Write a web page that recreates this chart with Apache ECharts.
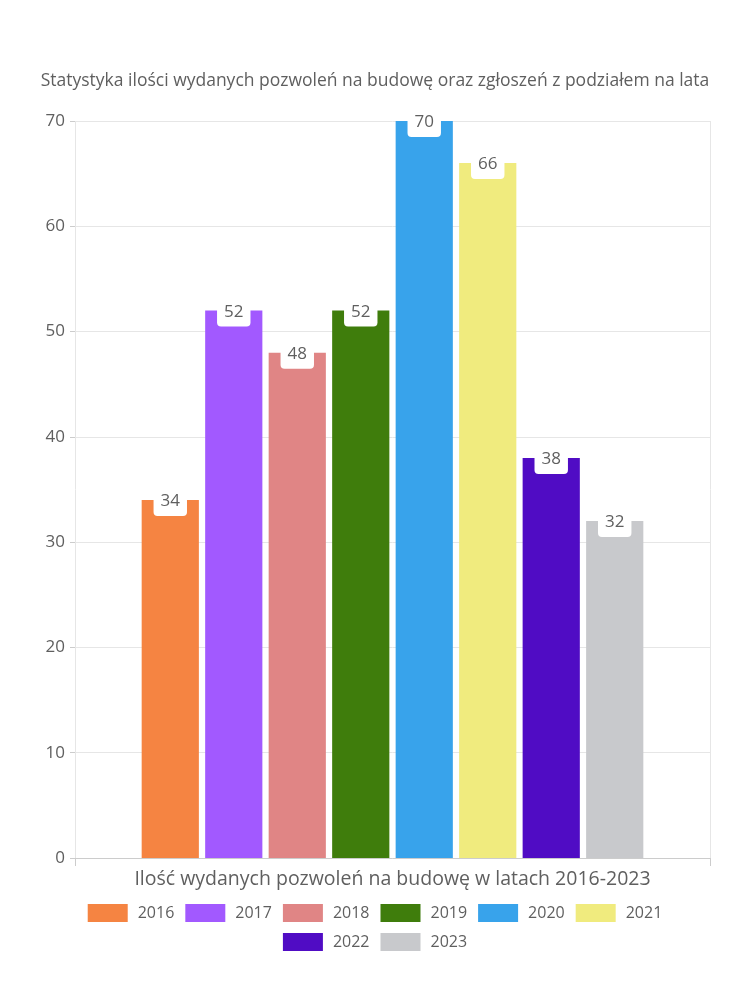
<!DOCTYPE html>
<html><head><meta charset="utf-8">
<script src="https://cdn.jsdelivr.net/npm/echarts@6/dist/echarts.min.js"></script>
<style>html,body{margin:0;padding:0;background:#fff}#c{width:750px;height:1000px}</style>
</head><body><div id="c"></div>
<script>
const title = 'Statystyka ilości wydanych pozwoleń na budowę oraz zgłoszeń z podziałem na lata';
const categories = ['Ilość wydanych pozwoleń na budowę w latach 2016-2023'];
const years = ['2016','2017','2018','2019','2020','2021','2022','2023'];
const values = [34, 52, 48, 52, 70, 66, 38, 32];
const colors = ['#F58442','#A259FF','#E08585','#3F7D0C','#38A3EB','#F0EB7E','#500CC4','#C8C9CC'];
const yTicks = {min: 0, max: 70, interval: 10};

const FONT = '"Open Sans", "Noto Sans", sans-serif';
const TXT = '#5f5f5f';
const legendBase = {itemWidth: 40, itemHeight: 18, itemGap: 11, icon: 'rect', left: 'center',
  textStyle: {fontSize: 16, color: TXT, fontFamily: FONT, padding: [0, 0, 0, 5]}};
const chart = echarts.init(document.getElementById('c'));
chart.setOption({
  animation: false,
  textStyle: {fontFamily: FONT},
  title: {text: title, left: 'center', top: 67,
    textStyle: {fontSize: 17.5, fontWeight: 'normal', color: TXT, fontFamily: FONT}},
  grid: {left: 75, right: 40, top: 121, bottom: 142},
  legend: [
    Object.assign({}, legendBase, {top: 899, data: years.slice(0, 6)}),
    Object.assign({}, legendBase, {top: 928, data: years.slice(6)})
  ],
  xAxis: {type: 'category', data: categories,
    axisLine: {lineStyle: {color: '#ccc'}},
    axisTick: {show: true, length: 8, lineStyle: {color: '#ccc'}},
    splitLine: {show: true, lineStyle: {color: '#e6e6e6'}},
    axisLabel: {fontSize: 19.5, color: TXT, margin: 11}},
  yAxis: {type: 'value', min: yTicks.min, max: yTicks.max, interval: yTicks.interval,
    axisLine: {show: false},
    axisTick: {show: true, length: 5, lineStyle: {color: '#ccc'}},
    splitLine: {lineStyle: {color: '#e6e6e6'}},
    axisLabel: {fontSize: 17, color: TXT, margin: 10}},
  series: years.map((y, i) => ({
    name: y, type: 'bar', data: [values[i]],
    itemStyle: {color: colors[i]},
    barGap: '11%', barCategoryGap: '21%',
    label: {show: true, position: 'top', distance: 0, offset: [0, 16],
      color: TXT, fontSize: 17, backgroundColor: '#fff',
      padding: [6, 7, 6, 7], borderRadius: [0, 0, 4, 4]}
  }))
});
</script></body></html>
